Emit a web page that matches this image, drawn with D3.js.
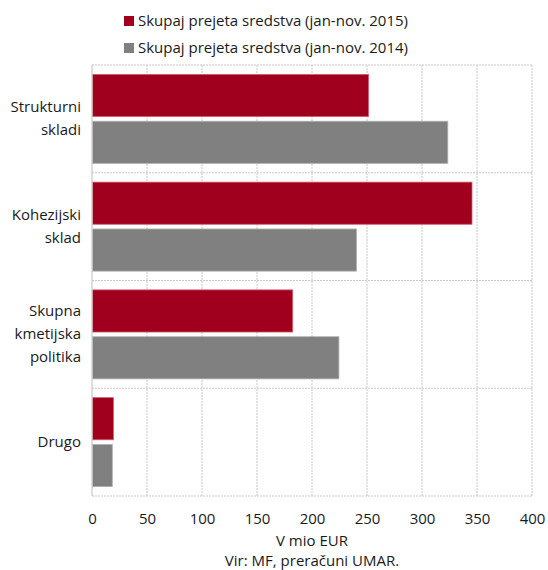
<!DOCTYPE html>
<html><head><meta charset="utf-8">
<script src="https://cdn.jsdelivr.net/npm/d3@7"></script>
<style>body{margin:0;background:#fff}svg{display:block}text{font-family:"Open Sans",sans-serif;fill:#1a1a1a}</style>
</head><body><svg id="c" width="548" height="570"></svg>
<script>
const categories = [["Strukturni","skladi"],["Kohezijski","sklad"],["Skupna","kmetijska","politika"],["Drugo"]];
const seriesNames = ["Skupaj prejeta sredstva (jan-nov. 2015)","Skupaj prejeta sredstva (jan-nov. 2014)"];
const values2015 = [251, 345, 182, 19];
const values2014 = [323, 240, 224, 18];
const xTicks = [0,50,100,150,200,250,300,350,400];
const colors = ["#A0001E","#808080"];
const strokes = ["#d06070","#b0b0b0"];
const xTitle = "V mio EUR";
const source = "Vir: MF, preračuni UMAR.";

const svg = d3.select("#c");
const m = {l:92, r:532, t:65, b:496};
const x = d3.scaleLinear().domain([0,400]).range([m.l, m.r]);
const y = d3.scaleBand().domain(d3.range(categories.length)).range([m.t, m.b]);
const ySub = d3.scaleBand().domain([0,1]).range([0, y.bandwidth()]).paddingInner(0.1).paddingOuter(0.2);
const fs = "15px";

// grid
const g = svg.append("g");
g.selectAll(".vg").data(xTicks.slice(1)).join("line")
  .attr("x1", d=>x(d)).attr("x2", d=>x(d)).attr("y1", m.t).attr("y2", m.b)
  .attr("stroke","#c8c8c8").attr("stroke-dasharray","2,1").attr("stroke-width",1);
g.selectAll(".hg").data(d3.range(categories.length+1)).join("line")
  .attr("x1", m.l).attr("x2", m.r)
  .attr("y1", d=> d<categories.length ? y(d) : m.b).attr("y2", d=> d<categories.length ? y(d) : m.b)
  .attr("stroke","#c8c8c8").attr("stroke-dasharray","2,1").attr("stroke-width",1);

// bars
const series = [values2015, values2014];
series.forEach((vals, si) => {
  svg.append("g").selectAll("rect").data(vals).join("rect")
    .attr("x", x(0)+0.5).attr("y", (d,i)=> y(i)+ySub(si))
    .attr("width", d=> x(d)-x(0)).attr("height", ySub.bandwidth())
    .attr("fill", colors[si]).attr("stroke", strokes[si]).attr("stroke-width",0.8);
});

// left axis line
svg.append("line").attr("x1",m.l).attr("x2",m.l).attr("y1",m.t).attr("y2",m.b)
  .attr("stroke","#c8c8c8").attr("stroke-width",1.2);

// x axis
const xAxis = svg.append("g").attr("transform",`translate(0,${m.b})`)
  .call(d3.axisBottom(x).tickValues(xTicks).tickSize(0).tickPadding(17));
xAxis.select(".domain").remove();
xAxis.selectAll("text").style("font-size",fs).attr("fill","#1a1a1a").style("font-family","'Open Sans',sans-serif");

// category labels
categories.forEach((lines, i) => {
  const cy = y(i) + y.bandwidth()/2;
  const lh = 23;
  const t = svg.append("text").attr("text-anchor","end").style("font-size",fs);
  lines.forEach((ln, k) => {
    t.append("tspan").attr("x", 81).attr("y", cy + (k - (lines.length-1)/2)*lh + 5).text(ln);
  });
});

// titles
svg.append("text").attr("x", 312).attr("y", 546).attr("text-anchor","middle").style("font-size",fs).text(xTitle);
svg.append("text").attr("x", 312).attr("y", 566).attr("text-anchor","middle").style("font-size",fs).text(source);

// legend
seriesNames.forEach((nm, i) => {
  const ly = 21 + i*27;
  svg.append("rect").attr("x",124).attr("y",ly-5).attr("width",10).attr("height",10).attr("fill",colors[i]);
  svg.append("text").attr("x",138).attr("y",ly+5).style("font-size",fs).text(nm);
});
</script></body></html>
